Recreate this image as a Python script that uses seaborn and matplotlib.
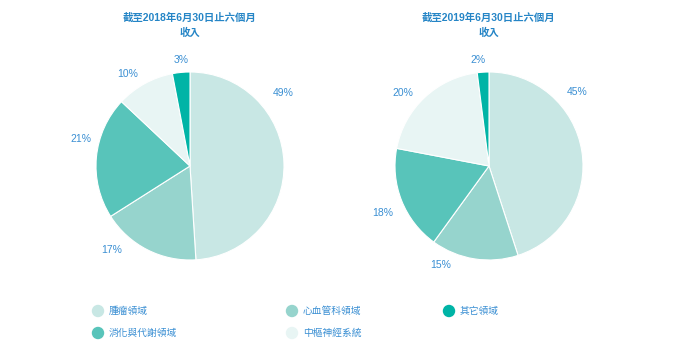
import matplotlib
matplotlib.use("Agg")
import matplotlib.pyplot as plt
import seaborn as sns
import numpy as np

sns.set_theme(style="white")
plt.rcParams['font.family'] = ['Liberation Sans', 'Noto Sans CJK TC', 'DejaVu Sans']

# ---- data ----
categories = ["腫瘤領域", "心血管科領域", "消化與代謝領域", "中樞神經系統", "其它領域"]
values_2018 = [49, 17, 21, 10, 3]
values_2019 = [45, 15, 18, 20, 2]
titles = ["截至2018年6月30日止六個月\n收入", "截至2019年6月30日止六個月\n收入"]

# ---- style ----
colors = ["#C8E7E4", "#96D4CD", "#58C4BA", "#E8F5F4", "#00B4A6"]
text_blue = "#3A8FD3"
title_blue = "#2585C6"
label_angles = [
    [38, 227, 166, 124, 95],
    [40, 244, 204, 140, 96],
]
label_dist = [
    [1.26, 1.22, 1.20, 1.18, 1.13],
    [1.22, 1.17, 1.24, 1.20, 1.13],
]

fig = plt.figure(figsize=(7, 3.5), dpi=100)
W, H = 700, 350
r_px = 94
half = 1.4
centers = [(190, 166), (489, 166)]

for i, (vals, title) in enumerate(zip([values_2018, values_2019], titles)):
    cx, cy = centers[i]
    size = 2 * half * r_px
    ax = fig.add_axes([(cx - size / 2) / W, (H - cy - size / 2) / H, size / W, size / H])
    wedges, _ = ax.pie(vals, colors=colors, startangle=90, counterclock=False,
                       radius=1, wedgeprops=dict(edgecolor="white", linewidth=0.8))
    ax.set_xlim(-half, half)
    ax.set_ylim(-half, half)
    ax.set_aspect("equal")
    ax.axis("off")
    for v, a, d in zip(vals, label_angles[i], label_dist[i]):
        rad = np.deg2rad(a)
        ax.text(d * np.cos(rad), d * np.sin(rad), f"{v}%", ha="center", va="center",
                fontsize=7.5, color=text_blue)
    fig.text(cx / W, 1 - 25.5 / H, title, ha="center", va="center", fontsize=7.5,
             fontweight="bold", color=title_blue, linespacing=1.55)

# ---- legend ----
legend_pos = [(98, 311), (292, 311), (449, 311), (98, 333), (292, 333)]
legend_order = [0, 1, 4, 2, 3]
lax = fig.add_axes([0, 0, 1, 1])
lax.set_xlim(0, W)
lax.set_ylim(H, 0)
lax.axis("off")
for (x, y), k in zip(legend_pos, legend_order):
    lax.scatter([x], [y], s=80, color=colors[k], edgecolors="none")
    lax.text(x + 11, y, categories[k], ha="left", va="center", fontsize=7, color=text_blue)

fig.savefig("out.png", dpi=100, facecolor="white")
